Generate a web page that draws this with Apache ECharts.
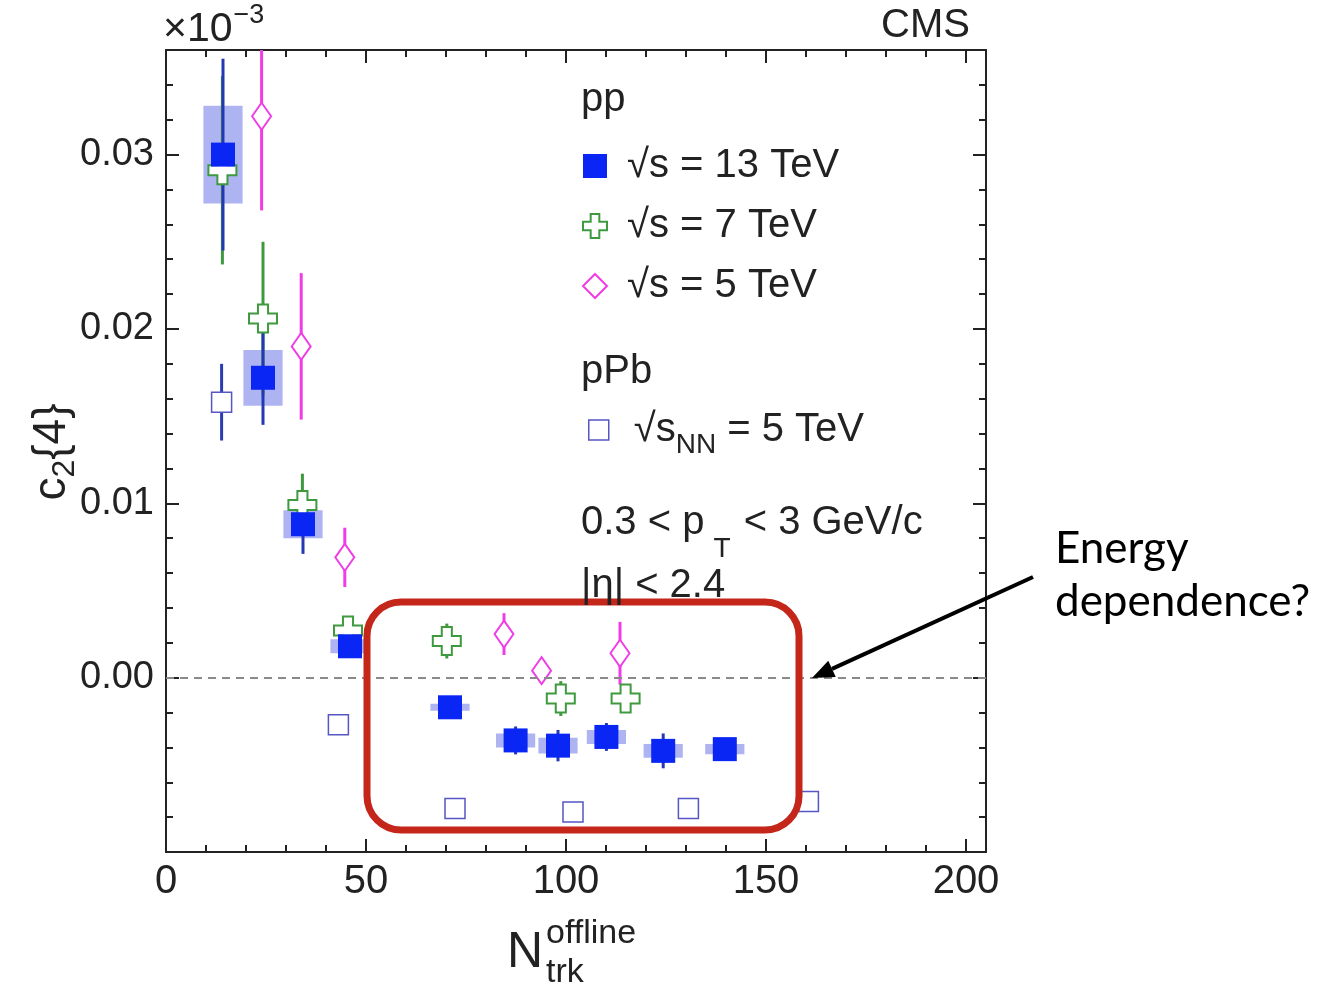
<!DOCTYPE html>
<html><head><meta charset="utf-8">
<script src="https://cdn.jsdelivr.net/npm/echarts@6/dist/echarts.min.js"></script>
<style>html,body{margin:0;padding:0;background:#fff}#c{width:1324px;height:991px}</style>
</head><body><div id="c"></div>
<script>
// ---------- data ----------
const xTickLabels = ['0','50','100','150','200'];
const yTickLabels = ['0.00','0.01','0.02','0.03'];

// pp 13 TeV
const x13 = [14.25, 24.25, 34.25, 46.0, 71.0, 87.4, 98.0, 110.1, 124.3, 139.7];
const y13 = [0.0300, 0.0172, 0.0088, 0.0018, -0.0017, -0.0036, -0.0039, -0.0034, -0.0042, -0.0041];
const stat13 = [0.0055, 0.0027, 0.0017, 0.0003, 0.0002, 0.0008, 0.0009, 0.0008, 0.0010, 0.0004];
const sys13 = [0.0028, 0.0016, 0.0008, 0.0004, 0.0002, 0.0004, 0.00045, 0.0004, 0.0004, 0.0003];
const sysHalfWidth13 = [4.9, 4.9, 4.9, 4.9, 4.9, 4.9, 4.9, 4.9, 4.9, 4.9];
// pp 7 TeV
const x7 = [14.1, 24.25, 34.1, 45.5, 70.2, 98.7, 114.9];
const y7 = [0.0291, 0.0206, 0.0099, 0.0027, 0.0021, -0.0012, -0.0012];
const stat7 = [0.0054, 0.0044, 0.0018, 0.0003, 0.0010, 0.0010, 0.0002];
// pp 5 TeV
const x5 = [23.9, 33.8, 44.7, 84.5, 93.9, 113.5];
const y5 = [0.0322, 0.0190, 0.0069, 0.0025, 0.0004, 0.0014];
const stat5 = [0.0054, 0.0042, 0.0017, 0.0012, 0.0001, 0.0018];
// pPb 5 TeV
const xpPb = [13.9, 43.1, 72.25, 101.75, 130.6, 160.6];
const ypPb = [0.0158, -0.0027, -0.0075, -0.0077, -0.0075, -0.0071];
const statpPb = [0.0022, 0.0002, 0, 0, 0, 0];

// annotation rectangle corners in data units [x0, y0, x1, y1]
const annotBox = [50.25, 0.00434, 158.25, -0.00874];

// ---------- styles ----------
const FONT = '"Liberation Sans", Arial, Helvetica, sans-serif';
const C13 = '#0a26f5', C13err = '#2438b4', C13sys = '#aeb4f2';
const C7 = '#3f9a3f', C5 = '#f03ce6', CpPb = '#5656c4', CpPbErr = '#2a3cb0';
const CROSS = 'path://M3.2,0H6.8V3.2H10V6.8H6.8V10H3.2V6.8H0V3.2H3.2Z';
const N13 = '√s = 13 TeV', N7 = '√s = 7 TeV', N5 = '√s = 5 TeV', NpPb = 'pPb5';

const zip = (...a) => a[0].map((_, i) => a.map(arr => arr[i]));

function errSeries(xs, ys, es, color) {
  return {
    type: 'custom', clip: true, silent: true, z: 2,
    data: zip(xs, ys, es),
    renderItem: function (params, api) {
      const x = api.value(0), y = api.value(1), e = api.value(2);
      if (!e) return null;
      const p1 = api.coord([x, y + e]), p2 = api.coord([x, y - e]);
      return { type: 'line', shape: { x1: p1[0], y1: p1[1], x2: p2[0], y2: p2[1] },
               style: { stroke: color, lineWidth: 3 } };
    }
  };
}

const chart = echarts.init(document.getElementById('c'), null, { renderer: 'canvas' });

const axisCommon = { type: 'value', splitLine: { show: false } };
function xAx(pos, interval, major) {
  return Object.assign({}, axisCommon, {
    position: pos, min: 0, max: 205, interval: interval,
    axisLine: { show: major, onZero: false, lineStyle: { color: '#222', width: 2 } },
    axisTick: { show: true, inside: true, length: major ? 13 : 7, lineStyle: { color: '#222', width: 2 } },
    axisLabel: (major && pos === 'bottom') ? {
      show: true, fontSize: 40, color: '#222', fontFamily: FONT, margin: 10,
      formatter: v => xTickLabels.includes(String(v)) ? String(v) : ''
    } : { show: false }
  });
}
function yAx(pos, interval, major) {
  return Object.assign({}, axisCommon, {
    position: pos, min: -0.01, max: 0.036, interval: interval,
    axisLine: { show: major, onZero: false, lineStyle: { color: '#222', width: 2 } },
    axisTick: { show: true, inside: true, length: major ? 13 : 7, lineStyle: { color: '#222', width: 2 } },
    axisLabel: (major && pos === 'left') ? {
      show: true, fontSize: 38, color: '#222', fontFamily: FONT, margin: 12,
      formatter: v => { const s = v.toFixed(2); return (yTickLabels.includes(s) && Math.abs(v - Number(s)) < 1e-9) ? s : ''; }
    } : { show: false }
  });
}

const option = {
  animation: false,
  backgroundColor: '#fff',
  grid: { left: 166, right: 338, top: 50, bottom: 139, containLabel: false },
  xAxis: [xAx('bottom', 50, true), xAx('bottom', 10, false), xAx('top', 50, true), xAx('top', 10, false)],
  yAxis: [yAx('left', 0.01, true), yAx('left', 0.002, false), yAx('right', 0.01, true), yAx('right', 0.002, false)],
  legend: [
    {
      orient: 'vertical', left: 577, top: 141, itemWidth: 24, itemHeight: 24, itemGap: 20,
      selectedMode: false,
      textStyle: { fontSize: 40, fontFamily: FONT, color: '#222', padding: [0, 0, 0, 15] },
      data: [
        { name: N13, icon: 'rect', itemStyle: { color: C13 } },
        { name: N7, icon: CROSS, itemStyle: { color: '#fff', borderColor: C7, borderWidth: 2 } },
        { name: N5, icon: 'diamond', itemStyle: { color: '#fff', borderColor: C5, borderWidth: 2 } }
      ]
    },
    {
      orient: 'vertical', left: 583, top: 405, itemWidth: 20, itemHeight: 20,
      selectedMode: false,
      formatter: () => '√s{sub|NN} = 5 TeV',
      textStyle: { fontSize: 40, fontFamily: FONT, color: '#222', padding: [0, 0, 0, 20],
        rich: { sub: { fontSize: 28, fontFamily: FONT, color: '#222', padding: [30, 0, 0, 0] } } },
      data: [{ name: NpPb, icon: 'rect', itemStyle: { color: '#fff', borderColor: CpPb, borderWidth: 1.5 } }]
    }
  ],
  series: [
    // systematic boxes 13 TeV
    {
      type: 'custom', clip: true, silent: true, z: 1,
      data: zip(x13, y13, sys13, sysHalfWidth13),
      renderItem: function (params, api) {
        const x = api.value(0), y = api.value(1), s = api.value(2), hw = api.value(3);
        const a = api.coord([x - hw, y + s]), b = api.coord([x + hw, y - s]);
        return { type: 'rect', shape: { x: a[0], y: a[1], width: b[0] - a[0], height: b[1] - a[1] },
                 style: { fill: C13sys } };
      }
    },
    // zero line
    {
      type: 'line', data: [], silent: true,
      markLine: { silent: true, symbol: 'none', label: { show: false },
        lineStyle: { type: [8, 6], color: '#8a8a8a', width: 2 }, data: [{ yAxis: 0 }] }
    },
    errSeries(x7, y7, stat7, C7),
    errSeries(x5, y5, stat5, C5),
    errSeries(xpPb, ypPb, statpPb, CpPbErr),
    errSeries(x13, y13, stat13, C13err),
    { name: N7, type: 'scatter', z: 3, symbol: CROSS, symbolSize: 28, data: zip(x7, y7),
      itemStyle: { color: '#fff', borderColor: C7, borderWidth: 2, opacity: 1 } },
    { name: N5, type: 'scatter', z: 3, symbol: 'diamond', symbolSize: [19, 27], data: zip(x5, y5),
      itemStyle: { color: '#fff', borderColor: C5, borderWidth: 2, opacity: 1 } },
    { name: NpPb, type: 'scatter', z: 3, symbol: 'rect', symbolSize: 20, data: zip(xpPb, ypPb),
      itemStyle: { color: '#fff', borderColor: CpPb, borderWidth: 1.5, opacity: 1 } },
    { name: N13, type: 'scatter', z: 4, symbol: 'rect', symbolSize: 24, data: zip(x13, y13),
      itemStyle: { color: C13, opacity: 1 } },
    // red annotation box
    {
      type: 'custom', clip: false, silent: true, z: 6,
      data: [annotBox],
      renderItem: function (params, api) {
        const a = api.coord([api.value(0), api.value(1)]), b = api.coord([api.value(2), api.value(3)]);
        return { type: 'rect', shape: { x: a[0], y: a[1], width: b[0] - a[0], height: b[1] - a[1], r: 34 },
                 style: { fill: 'none', stroke: '#c4261a', lineWidth: 7 } };
      }
    }
  ],
  graphic: []
};

// text measuring helper
const mctx = document.createElement('canvas').getContext('2d');
function tw(t, size) { mctx.font = size + 'px ' + FONT; return mctx.measureText(t).width; }

const g = [];
const txt = (text, x, y, size, extra) => g.push({ type: 'text', z: 10, silent: true,
  style: Object.assign({ text: text, x: x, y: y, fontSize: size, fontFamily: FONT, fill: '#222',
    textAlign: 'left', textVerticalAlign: 'middle' }, extra || {}) });

txt('CMS', 970, 26, 40, { textAlign: 'right' });
txt('×10', 163, 30, 41);
txt('−3', 163 + tw('×10', 41) + 1, 16, 27);
txt('pp', 581, 100, 40);
txt('pPb', 581, 372, 40);
const k1 = '0.3 < p', k2 = ' < 3 GeV/c';
txt(k1, 581, 523, 40);
txt('T', 581 + tw(k1, 40) + 9, 549, 28);
txt(k2, 581 + tw(k1, 40) + 9 + tw('T', 28) + 2, 523, 40);
txt('|η| < 2.4', 581, 586, 40);
// axis titles
g.push({ type: 'text', z: 10, silent: true, x: 52, y: 452, rotation: Math.PI / 2,
  style: { text: 'c{sub|2}{4}', fontSize: 46, fontFamily: FONT, fill: '#222', textAlign: 'center', textVerticalAlign: 'middle',
    rich: { sub: { fontSize: 32, fontFamily: FONT, fill: '#222', padding: [26, 0, 0, 0] } } } });
txt('N', 507, 953, 50);
txt('offline', 546, 934, 34);
txt('trk', 546, 973, 34);
// annotation text + arrow
const AF = 'Lato, "Open Sans", sans-serif';
g.push({ type: 'text', z: 10, silent: true, style: { text: 'Energy', x: 1055, y: 549, fontSize: 44, fontFamily: AF, fill: '#000', textVerticalAlign: 'middle' } });
g.push({ type: 'text', z: 10, silent: true, style: { text: 'dependence?', x: 1055, y: 602, fontSize: 44, fontFamily: AF, fill: '#000', textVerticalAlign: 'middle' } });
const tail = [1033, 577], tip = [812, 678];
const dx = tip[0] - tail[0], dy = tip[1] - tail[1], L = Math.hypot(dx, dy);
const ux = dx / L, uy = dy / L, hl = 22, hw = 9;
const base = [tip[0] - ux * hl, tip[1] - uy * hl];
g.push({ type: 'line', z: 10, silent: true, shape: { x1: tail[0], y1: tail[1], x2: base[0], y2: base[1] }, style: { stroke: '#000', lineWidth: 4 } });
g.push({ type: 'polygon', z: 10, silent: true, shape: { points: [tip, [base[0] - uy * hw, base[1] + ux * hw], [base[0] + uy * hw, base[1] - ux * hw]] }, style: { fill: '#000' } });

option.graphic = g;
chart.setOption(option);
</script>
</body></html>
